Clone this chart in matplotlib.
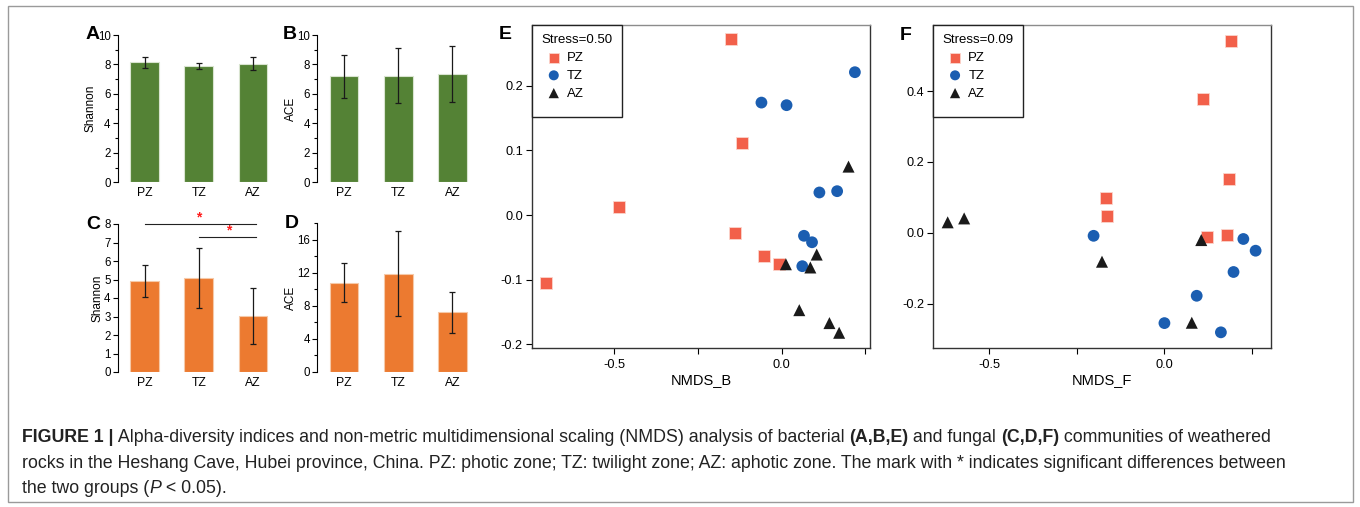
import matplotlib
matplotlib.use('Agg')
import matplotlib.pyplot as plt
from matplotlib.patches import Rectangle
from matplotlib.ticker import MultipleLocator, FixedLocator, FormatStrFormatter
import numpy as np

plt.rcParams['font.family'] = ['Liberation Sans', 'DejaVu Sans']
plt.rcParams['axes.unicode_minus'] = False

# ---- data ----
zones = ['PZ', 'TZ', 'AZ']

# bacteria (A, B)
shannon_b = [8.15, 7.90, 8.05]
shannon_b_err = [0.38, 0.22, 0.45]
ace_b = [7.20, 7.25, 7.35]
ace_b_err = [1.45, 1.90, 1.90]

# fungi (C, D)
shannon_f = [4.92, 5.08, 3.02]
shannon_f_err = [0.88, 1.64, 1.50]
ace_f = [10.8, 11.9, 7.2]
ace_f_err = [2.4, 5.2, 2.5]

# NMDS bacteria (E)
e_pz_x = [-0.152, -0.118, -0.484, -0.138, -0.053, -0.009, -0.704]
e_pz_y = [0.272, 0.111, 0.012, -0.027, -0.063, -0.075, -0.105]
e_tz_x = [0.219, -0.060, 0.015, 0.113, 0.166, 0.067, 0.091, 0.062]
e_tz_y = [0.221, 0.174, 0.170, 0.035, 0.037, -0.032, -0.042, -0.079]
e_az_x = [0.200, 0.013, 0.086, 0.105, 0.053, 0.143, 0.172]
e_az_y = [0.075, -0.076, -0.081, -0.061, -0.147, -0.167, -0.182]

# NMDS fungi (F)
f_pz_x = [0.190, 0.109, 0.184, -0.167, -0.164, 0.121, 0.178]
f_pz_y = [0.541, 0.377, 0.151, 0.099, 0.049, -0.010, -0.005]
f_tz_x = [-0.202, 0.225, 0.260, 0.197, 0.092, 0.000, 0.161]
f_tz_y = [-0.008, -0.017, -0.050, -0.110, -0.177, -0.254, -0.280]
f_az_x = [-0.618, -0.571, -0.178, 0.105, 0.078]
f_az_y = [0.030, 0.041, -0.081, -0.020, -0.253]

green = '#548235'
orange = '#EC7A30'
c_pz = '#F2604A'
c_tz = '#1B5EB1'
c_az = '#1A1A1A'

W, H = 1360, 507
fig = plt.figure(figsize=(W / 100, H / 100), dpi=100)


def box(left, top, right, bottom):
    # pixel box -> figure fraction
    return [left / W, 1 - bottom / H, (right - left) / W, (bottom - top) / H]


def bar_panel(rect, vals, errs, color, ylim, major, minor, ylabel):
    ax = fig.add_axes(rect)
    xpos = np.arange(len(zones))
    ax.bar(xpos, vals, width=0.53, color=color, edgecolor='#d9e4d0' if color == green else '#f6c9a8',
           linewidth=0.8, yerr=errs, capsize=2.2,
           error_kw=dict(ecolor='#1a1a1a', elinewidth=0.9, capthick=0.9))
    ax.set_xlim(-0.5, 2.5)
    ax.set_ylim(*ylim)
    ax.set_xticks(xpos)
    ax.set_xticklabels(zones)
    ax.yaxis.set_major_locator(MultipleLocator(major))
    ax.yaxis.set_minor_locator(MultipleLocator(minor))
    for s in ['top', 'right', 'bottom']:
        ax.spines[s].set_visible(False)
    ax.spines['left'].set_linewidth(0.8)
    ax.tick_params(axis='x', length=0, pad=3.5, labelsize=8.8)
    ax.tick_params(axis='y', which='major', length=3.5, width=0.8, pad=1.5, labelsize=8.3)
    ax.tick_params(axis='y', which='minor', length=2, width=0.8)
    ax.set_ylabel(ylabel, fontsize=8.5, labelpad=0.5)
    return ax


axA = bar_panel(box(117.5, 35, 280, 182.3), shannon_b, shannon_b_err, green,
                (0, 10), 2, 1, 'Shannon')
axB = bar_panel(box(317, 35, 479.5, 182.3), ace_b, ace_b_err, green,
                (0, 10), 2, 1, 'ACE')
axC = bar_panel(box(117.5, 224, 280, 372), shannon_f, shannon_f_err, orange,
                (0, 8), 1, 1, 'Shannon')
axD = bar_panel(box(317, 223.3, 479.5, 371.7), ace_f, ace_f_err, orange,
                (0, 18), 4, 2, 'ACE')
axD.set_yticks([0, 4, 8, 12, 16])

# significance marks in C
axC.plot([0, 2.05], [8.0, 8.0], color='#222222', lw=0.8, clip_on=False)
axC.plot([1, 2.05], [7.3, 7.3], color='#222222', lw=0.8, clip_on=False)
axC.text(1.0, 7.98, '*', color='#ff1a1a', fontsize=10, fontweight='bold', ha='center', va='bottom')
axC.text(1.55, 7.28, '*', color='#ff1a1a', fontsize=10, fontweight='bold', ha='center', va='bottom')


def nmds_panel(rect, xlim, ylim, yticks, pz, tz, az, stress, xlabel):
    ax = fig.add_axes(rect)
    ax.scatter(pz[0], pz[1], marker='s', s=70, color=c_pz, edgecolor='#fbd5cc', linewidth=0.6, label='PZ', zorder=3)
    ax.scatter(tz[0], tz[1], marker='o', s=72, color=c_tz, edgecolor='none', label='TZ', zorder=3)
    ax.scatter(az[0], az[1], marker='^', s=75, color=c_az, edgecolor='none', label='AZ', zorder=3)
    ax.set_xlim(*xlim)
    ax.set_ylim(*ylim)
    ax.xaxis.set_major_locator(FixedLocator([-0.5, -0.25, 0.0, 0.25]))
    ax.set_xticklabels(['-0.5', '', '0.0', ''])
    ax.set_yticks(yticks)
    ax.yaxis.set_major_formatter(FormatStrFormatter('%.1f'))
    ax.tick_params(length=4.5, width=0.8, labelsize=9.2, pad=2)
    ax.tick_params(axis='x', pad=3)
    for s in ['left', 'bottom']:
        ax.spines[s].set_color('#333333')
    ax.spines['top'].set_color('#8c8c8c')
    ax.spines['right'].set_color('#333333')
    for s in ax.spines.values():
        s.set_linewidth(1.0)
    ax.set_xlabel(xlabel, fontsize=10.5, labelpad=2)
    # legend drawn without its own frame; the frame is a fixed box like the original
    leg = ax.legend(title=stress, loc='upper left', bbox_to_anchor=(0.0, 1.0), borderaxespad=0,
                    frameon=False, fontsize=9.5, title_fontsize=9.5,
                    handlelength=1.9, handletextpad=0.05, labelspacing=0.42,
                    borderpad=0.7, alignment='left', scatterpoints=1, markerscale=0.85)
    leg.set_zorder(5)
    bw, bh = 89.7 / 338.0, 91.7 / 323.3
    ax.add_patch(Rectangle((0, 1 - bh), bw, bh, transform=ax.transAxes, fill=True,
                           facecolor='white', edgecolor='#222222', linewidth=1.0,
                           zorder=4, clip_on=False))
    return ax


axE = nmds_panel(box(532, 25, 870.3, 348.3), (-0.745, 0.265), (-0.206, 0.294),
                 [-0.2, -0.1, 0.0, 0.1, 0.2],
                 (e_pz_x, e_pz_y), (e_tz_x, e_tz_y), (e_az_x, e_az_y),
                 'Stress=0.50', 'NMDS_B')
axF = nmds_panel(box(933.3, 25, 1270.7, 348.3), (-0.659, 0.303), (-0.325, 0.586),
                 [-0.2, 0.0, 0.2, 0.4],
                 (f_pz_x, f_pz_y), (f_tz_x, f_tz_y), (f_az_x, f_az_y),
                 'Stress=0.09', 'NMDS_F')

# panel letters
for lab, (px, py) in zip('ABCDEF', [(86, 39), (283, 39), (86, 229), (285, 228), (499, 39), (900, 40)]):
    fig.text(px / W, 1 - py / H, lab, fontsize=14, fontweight='bold', ha='left', va='baseline')

# outer frame
fig.patches.append(Rectangle((8 / W, 1 - 502 / H), 1345 / W, 496 / H, transform=fig.transFigure,
                             fill=False, edgecolor='#9a9a9a', linewidth=1.0))

# caption with mixed styles
caption = [
    [('FIGURE 1 |', 'bold', 'normal'),
     (' Alpha-diversity indices and non-metric multidimensional scaling (NMDS) analysis of bacterial ', 'normal', 'normal'),
     ('(A,B,E)', 'bold', 'normal'),
     (' and fungal ', 'normal', 'normal'),
     ('(C,D,F)', 'bold', 'normal'),
     (' communities of weathered', 'normal', 'normal')],
    [('rocks in the Heshang Cave, Hubei province, China. PZ: photic zone; TZ: twilight zone; AZ: aphotic zone. The mark with * indicates significant differences between', 'normal', 'normal')],
    [('the two groups (', 'normal', 'normal'), ('P', 'normal', 'italic'), (' < 0.05).', 'normal', 'normal')],
]
cap_y = [442, 467.5, 493]
fig.canvas.draw()
renderer = fig.canvas.get_renderer()
for runs, py in zip(caption, cap_y):
    x = 22 / W
    for txt, wt, st in runs:
        t = fig.text(x, 1 - py / H, txt, fontsize=12.8, fontweight=wt, fontstyle=st,
                     color='#222222', ha='left', va='baseline')
        bb = t.get_window_extent(renderer)
        x += bb.width / W

fig.savefig('out.png', dpi=100)
